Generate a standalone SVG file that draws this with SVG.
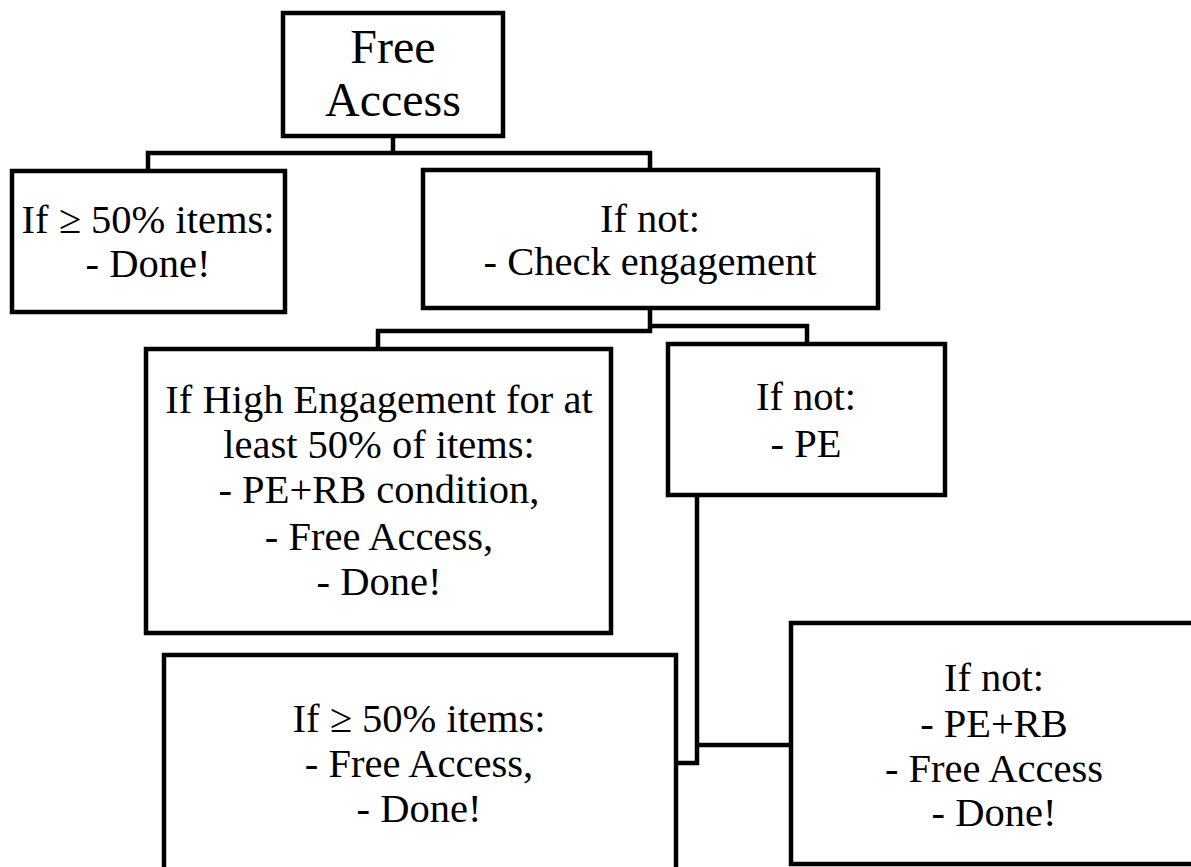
<svg xmlns="http://www.w3.org/2000/svg" width="1191" height="867" viewBox="0 0 1191 867">
<style>
.box{fill:#fff;stroke:#000;stroke-width:4.5}
.conn{fill:none;stroke:#000;stroke-width:4.5}
text{font-family:"Liberation Serif","Times New Roman",serif;font-size:40.5px;fill:#000;text-anchor:middle}
.big{font-size:48px}
</style>
<rect width="1191" height="867" fill="#fff"/>
<g id="connectors">
<path class="conn" d="M148,171 V153 H650 V170 M393,136 V153"/>
<path class="conn" d="M650,308 V331 H378 V349 M650,326 H807 V344"/>
<path class="conn" d="M697,495 V763 H676 M697,745 H791"/>
</g>
<g id="n-free">
<rect class="box" x="283" y="13" width="220" height="123"/>
<text class="big" x="393" y="63">Free</text>
<text class="big" x="393" y="116">Access</text>
</g>
<g id="n-done1">
<rect class="box" x="12" y="171" width="273" height="141"/>
<text x="148" y="233">If ≥ 50% items:</text>
<text x="148" y="277">- Done!</text>
</g>
<g id="n-check">
<rect class="box" x="423" y="170" width="455" height="138"/>
<text x="650" y="232">If not:</text>
<text x="650" y="275">- Check engagement</text>
</g>
<g id="n-high">
<rect class="box" x="146" y="349" width="465" height="284"/>
<text x="379" y="413">If High Engagement for at</text>
<text x="379" y="458">least 50% of items:</text>
<text x="379" y="503">- PE+RB condition,</text>
<text x="379" y="550">- Free Access,</text>
<text x="379" y="595">- Done!</text>
</g>
<g id="n-pe">
<rect class="box" x="668" y="344" width="277" height="151"/>
<text x="806" y="410">If not:</text>
<text x="806" y="457">- PE</text>
</g>
<g id="n-low-left">
<rect class="box" x="164" y="655" width="512" height="230"/>
<text x="419" y="732">If ≥ 50% items:</text>
<text x="419" y="777">- Free Access,</text>
<text x="419" y="822">- Done!</text>
</g>
<g id="n-low-right">
<rect class="box" x="791" y="623" width="450" height="241"/>
<text x="994" y="691">If not:</text>
<text x="994" y="737">- PE+RB</text>
<text x="994" y="782">- Free Access</text>
<text x="994" y="826">- Done!</text>
</g>
</svg>
